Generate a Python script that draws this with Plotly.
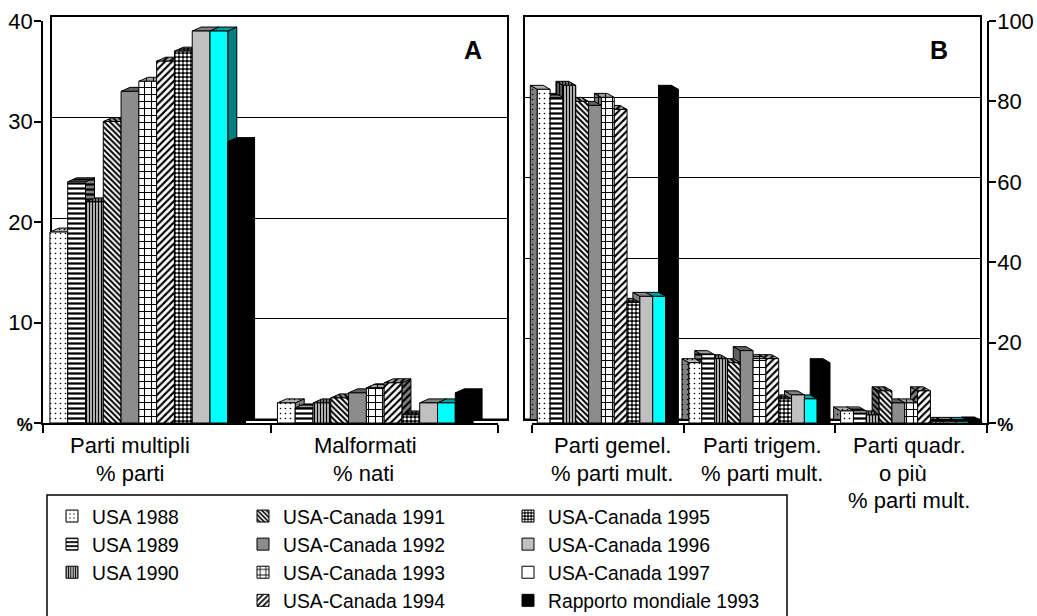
import plotly.graph_objects as go

W, H = 1037, 616
FONT = "Liberation Sans"

series = ["USA 1988", "USA 1989", "USA 1990", "USA-Canada 1991", "USA-Canada 1992", "USA-Canada 1993",
          "USA-Canada 1994", "USA-Canada 1995", "USA-Canada 1996", "USA-Canada 1997", "Rapporto mondiale 1993"]

cats_a = ["Parti multipli", "Malformati"]
vals_a = [
    [19, 2], [24, 1.5], [22, 2], [30, 2.5], [33, 3], [34, 3.5],
    [36, 4], [37, 0.8], [39, 2], [39, 2], [28, 3],
]
cats_b = ["Parti gemel.", "Parti trigem.", "Parti quadr."]
vals_b = [
    [83, 15, 3], [81, 17, 3], [84, 16, 2], [80, 15, 8], [79, 18, 5], [81, 16, 5],
    [78, 16, 8], [30, 6, 0.4], [31.5, 7, 0.4], [31.5, 6, 0.4], [83, 15, 0.5],
]
ticks_a = [0, 10, 20, 30, 40]
ticklabels_a = ['<span style="font-size:18px"><b>%</b></span>', "10", "20", "30", "40"]
ticks_b = [0, 20, 40, 60, 80, 100]
ticklabels_b = ['<span style="font-size:18px"><b>%</b></span>', "20", "40", "60", "80", "100"]

styles = [
    dict(shape=".", bg="#ffffff", fg="#000000", size=5, sol=0.08, top="#b0b0b0", side="#808080"),
    dict(shape="-", bg="#ffffff", fg="#000000", size=5, sol=0.45, top="#a0a0a0", side="#808080"),
    dict(shape="|", bg="#ffffff", fg="#000000", size=3, sol=0.55, top="#a0a0a0", side="#808080"),
    dict(shape="\\", bg="#ffffff", fg="#000000", size=4, sol=0.5, top="#a0a0a0", side="#808080"),
    dict(shape="", bg="#8c8c8c", fg="#000000", size=5, sol=0.5, top="#606060", side="#606060"),
    dict(shape="+", bg="#ffffff", fg="#000000", size=7, sol=0.28, top="#a0a0a0", side="#808080"),
    dict(shape="/", bg="#ffffff", fg="#000000", size=5, sol=0.42, top="#a0a0a0", side="#808080"),
    dict(shape=".", bg="#000000", fg="#ffffff", size=4, sol=0.5, top="#808080", side="#808080"),
    dict(shape="", bg="#c0c0c0", fg="#000000", size=5, sol=0.5, top="#808080", side="#808080"),
    dict(shape="", bg="#00ffff", fg="#000000", size=5, sol=0.5, top="#00a0a0", side="#008080"),
    dict(shape="", bg="#000000", fg="#000000", size=5, sol=0.5, top="#000000", side="#000000"),
]
legend_slots = ["legend"] * 3 + ["legend2"] * 4 + ["legend3"] * 4


def px(x):
    return x / W


def py(y):
    return 1 - y / H


fig = go.Figure()


def panel(ax_wall, ax_front, cats, vals, ticks, ticklabels, wall_x, front_x, gap, shift_px, order, yside, show_legend):
    """Draws back wall with depth faces, then bar fronts on top (later subplot)."""
    n = len(cats)
    yw = ("" if ax_wall == 1 else str(ax_wall))
    yf = str(ax_front)
    front_y0, front_y1 = 423, 21
    wall_y0, wall_y1 = 419, 17
    dy_px = front_y0 - wall_y0
    sx = (front_x[1] - front_x[0]) / n
    ymax = ticks[-1]
    sy = (front_y0 - front_y1) / ymax
    D = (wall_x[0] - front_x[0]) / sx   # signed depth in x units
    DY = dy_px / sy
    w = (1 - gap) / len(vals)
    x0 = -0.5
    shift = shift_px / sx

    # floor
    fig.add_trace(go.Scatter(
        x=[x0, x0 + n, x0 + n - D, x0 - D, x0], y=[0, 0, -DY, -DY, 0], mode="lines", fill="toself",
        fillcolor="#808080", line=dict(color="#000000", width=1), showlegend=False, hoverinfo="skip",
        cliponaxis=False, xaxis=f"x{yw}", yaxis=f"y{yw}"))
    # connectors between the front axis and the wall
    cx, cy = [], []
    for t in ticks[1:]:
        edge = x0 if D > 0 else x0 + n
        cx += [edge, edge - D, None]
        cy += [t, t - DY, None]
    fig.add_trace(go.Scatter(
        x=cx, y=cy, mode="lines", line=dict(color="#000000", width=1), showlegend=False, hoverinfo="skip",
        cliponaxis=False, xaxis=f"x{yw}", yaxis=f"y{yw}"))

    # depth faces
    for i in order:
        st = styles[i]
        sxs, sys, txs, tys = [], [], [], []
        for c, v in enumerate(vals[i]):
            f = x0 + c + gap / 2 + shift + i * w
            e = f + w if D > 0 else f
            sxs += [e, e, e - D, e - D, e, None]
            sys += [v, 0, -DY, v - DY, v, None]
            txs += [f, f + w, f + w - D, f - D, f, None]
            tys += [v, v, v - DY, v - DY, v, None]
        for xs, ys, col in ((sxs, sys, st["side"]), (txs, tys, st["top"])):
            pat = None
            if st["shape"]:
                fg = st["fg"]
                pat = dict(shape=st["shape"], bgcolor=col if st["bg"] != "#000000" else "#000000",
                           fgcolor=fg if st["bg"] != "#000000" else col, size=st["size"], solidity=st["sol"],
                           fillmode="replace")
            fig.add_trace(go.Scatter(
                x=xs, y=ys, mode="lines", fill="toself", fillcolor=col, fillpattern=pat,
                line=dict(color="#000000", width=1), showlegend=False, hoverinfo="skip", cliponaxis=False,
                xaxis=f"x{yw}", yaxis=f"y{yw}"))

    # fronts
    for i, name in enumerate(series):
        st = styles[i]
        is97 = name.endswith("1997")
        fig.add_trace(go.Bar(
            x=cats, y=vals[i], name=name, width=w, offset=-(1 - gap) / 2 + shift + i * w,
            marker=dict(color=st["bg"], line=dict(color="#000000", width=1),
                        pattern=dict(shape=st["shape"], bgcolor=st["bg"], fgcolor=st["fg"], size=st["size"],
                                     solidity=st["sol"], fillmode="replace")),
            showlegend=show_legend and not is97, legend=legend_slots[i],
            xaxis=f"x{yf}", yaxis=f"y{yf}"))
        if show_legend and is97:
            fig.add_trace(go.Bar(
                x=[None], y=[None], name=name, marker=dict(color="#ffffff", line=dict(color="#000000", width=1)),
                legend=legend_slots[i], xaxis=f"x{yf}", yaxis=f"y{yf}"))

    axcommon = dict(color="#000000", tickfont=dict(family=FONT, size=22, color="#000000"), zeroline=False)
    fig.update_layout({
        f"xaxis{yw}": dict(domain=[px(wall_x[0]), px(wall_x[1])], range=[x0, x0 + n], showticklabels=False,
                           ticks="", showgrid=False, showline=True, linecolor="#000000", linewidth=1.5,
                           mirror=True, zeroline=False, anchor=f"y{yw}"),
        f"yaxis{yw}": dict(domain=[py(wall_y0), py(wall_y1)], range=[0, ymax], tickvals=ticks, showticklabels=False,
                           ticks="", showgrid=True, gridcolor="#000000", gridwidth=1, showline=True,
                           linecolor="#000000", linewidth=1.5, mirror=True, zeroline=False, anchor=f"x{yw}"),
        f"xaxis{yf}": dict(domain=[px(front_x[0]), px(front_x[1])], range=[x0, x0 + n], type="category",
                           categoryorder="array", categoryarray=cats, tickson="boundaries", ticks="outside",
                           ticklen=8, tickwidth=1.5, tickcolor="#000000", showticklabels=False, showgrid=False,
                           showline=True, linecolor="#000000", linewidth=1.5, zeroline=False, anchor=f"y{yf}"),
        f"yaxis{yf}": dict(domain=[py(front_y0), py(front_y1)], range=[0, ymax], tickmode="array", tickvals=ticks,
                           ticktext=ticklabels, ticks="outside", ticklen=7, tickwidth=1.5, tickcolor="#000000",
                           ticklabelstandoff=-3, showgrid=False, showline=True, linecolor="#000000", linewidth=1.5,
                           side=yside, anchor=f"x{yf}", **axcommon),
    })


panel(1, 2, cats_a, vals_a, ticks_a, ticklabels_a, (52, 507), (43, 498), 0.14, -9, list(range(11)), "left", True)
panel(3, 4, cats_b, vals_b, ticks_b, ticklabels_b, (525, 980), (532, 987), 0.07, 0, list(range(10, -1, -1)), "right", False)

labels = [
    ("Parti multipli", 130, 445), ("% parti", 130, 473),
    ("Malformati", 365, 445), ("% nati", 363, 473),
    ("Parti gemel.", 612, 445), ("% parti mult.", 612, 473),
    ("Parti trigem.", 762, 445), ("% parti mult.", 762, 473),
    ("Parti quadr.", 909, 445), ("o più", 903, 473), ("% parti mult.", 909, 500),
]
annotations = [
    dict(text=t, x=px(x), y=py(y), xref="paper", yref="paper", showarrow=False, xanchor="center", yanchor="middle",
         font=dict(family=FONT, size=22, color="#000000")) for t, x, y in labels
]
for letter, x in (("A", 473), ("B", 939)):
    annotations.append(dict(text=f"<b>{letter}</b>", x=px(x), y=py(50), xref="paper", yref="paper", showarrow=False,
                            xanchor="center", yanchor="middle",
                            font=dict(family=FONT, size=25, color="#000000")))

legfont = dict(family=FONT, size=19.3, color="#000000")


def leg(x, y):
    return dict(x=px(x), y=py(y), xanchor="left", yanchor="top", orientation="v", bgcolor="rgba(0,0,0,0)",
                font=legfont, borderwidth=0, traceorder="normal")


fig.update_layout(
    width=W, height=H, margin=dict(l=0, r=0, t=0, b=0, autoexpand=False), paper_bgcolor="#ffffff",
    plot_bgcolor="rgba(0,0,0,0)",
    barmode="overlay", annotations=annotations, showlegend=True,
    legend=leg(52, 497), legend2=leg(243, 497), legend3=leg(508, 497),
    shapes=[dict(type="rect", xref="paper", yref="paper", x0=px(47), x1=px(787), y0=py(495), y1=py(620),
                 line=dict(color="#000000", width=1.5), fillcolor="rgba(0,0,0,0)")],
)

fig.write_html("out.html", config={"displayModeBar": False},
               post_script="document.body.style.margin='0';document.body.style.overflow='hidden';")
